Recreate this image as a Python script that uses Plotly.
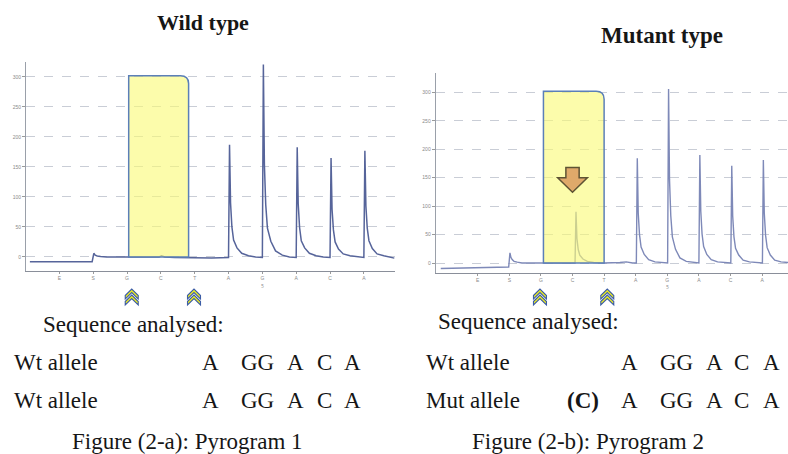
import plotly.graph_objects as go

W, H = 788, 454

# ---------------- data ----------------
dispensation = ["E", "S", "G", "C", "T", "A", "G", "A", "C", "A"]
disp_pos = [1, 2, 3, 4, 5, 6, 7, 8, 9, 10]
y_ticks = [0, 50, 100, 150, 200, 250, 300]

# Wild-type pyrogram trace
wt_x = [0.13, 1.97, 2.02, 2.06, 2.12, 2.22, 2.4, 3.0, 3.6, 3.95, 4.02, 4.12, 4.4, 4.9, 5.5, 6.0,
        6.03, 6.06, 6.10, 6.15, 6.25, 6.39, 6.59, 6.8, 7.0,
        7.03, 7.06, 7.10, 7.15, 7.25, 7.39, 7.59, 7.8, 8.0,
        8.03, 8.06, 8.10, 8.15, 8.25, 8.39, 8.59, 8.8, 9.0,
        9.03, 9.06, 9.10, 9.15, 9.25, 9.39, 9.59, 9.8, 10.0,
        10.03, 10.06, 10.10, 10.15, 10.25, 10.39, 10.59, 10.8, 10.9]
wt_y = [-8, -8, 6, 3, 1.5, 0.5, 0, 0, 0, 0, 2, 0, -1, -2, -2, -1,
        187, 90, 50, 28, 15, 6, 2, 0, -1,
        321, 154, 87, 48, 26, 10, 3, 0, -1,
        183, 88, 49, 27, 15, 6, 2, 0, -1,
        165, 79, 45, 25, 13, 5, 2, 0, -1,
        177, 85, 48, 27, 14, 5, 2, -1, -2]

# Mutant pyrogram trace
mut_x = [-0.17, 1.98, 2.02, 2.05, 2.09, 2.15, 2.25, 2.4, 3.0, 3.6, 4.08,
         4.11, 4.14, 4.18, 4.23, 4.33, 4.47, 4.67, 5.0, 5.5, 5.7, 5.9, 6.02,
         6.05, 6.08, 6.12, 6.17, 6.27, 6.41, 6.61, 7.01,
         7.04, 7.07, 7.11, 7.16, 7.26, 7.40, 7.60, 8.0,
         8.03, 8.06, 8.10, 8.15, 8.25, 8.39, 8.59, 9.01,
         9.04, 9.07, 9.11, 9.16, 9.26, 9.40, 9.60, 10.01,
         10.04, 10.07, 10.11, 10.16, 10.26, 10.40, 10.60, 10.82]
mut_y = [-9.5, -7, 18, 10, 6, 3, 1.5, 0, 0, 0, 0,
         90, 43, 24, 14, 7, 3, 1, 0, 1, 2, 0, 0,
         184, 88, 50, 28, 15, 6, 2, 0,
         306, 147, 83, 46, 24, 9, 3, 0,
         190, 91, 51, 29, 15, 6, 2, 0,
         171, 82, 46, 26, 14, 5, 2, 0,
         181, 87, 49, 27, 14, 5, 2, 1]

# highlighted region (dispensation G..T) and marker positions
wt_box = [3.05, 4.82, 0, 302]
mut_box = [3.08, 5.0, 0, 302]
wt_chevrons = [3.14, 4.98]
mut_chevrons = [2.97, 5.1]
mut_arrow_x = 4.0
mut_arrow_y = [168, 150, 124.5]

panel_titles = ["Wild type", "Mutant type"]
seq_header = "Sequence analysed:"
allele_a = ["Wt allele", "Wt allele"]
allele_b = ["Wt allele", "Mut allele"]
seq_tokens = ["A", "GG", "A", "C", "A"]
mut_insert = "(C)"
captions = ["Figure (2-a): Pyrogram 1", "Figure (2-b): Pyrogram 2"]
sub_label = "5"

# ---------------- figure ----------------
SERIF = "Liberation Serif"
fig = go.Figure()
fig.add_trace(go.Scatter(x=wt_x, y=wt_y, mode="lines", xaxis="x", yaxis="y",
                         line=dict(color="#56649a", width=1.5), hoverinfo="skip", showlegend=False))
fig.add_trace(go.Scatter(x=mut_x, y=mut_y, mode="lines", xaxis="x2", yaxis="y2",
                         line=dict(color="#7e89b8", width=1.4), hoverinfo="skip", showlegend=False))

def px(v):
    return v / W

def py(v):
    return 1 - v / H

axis_common = dict(showgrid=False, zeroline=False, showline=True, linecolor="#8a8f9a", linewidth=1.3,
                   ticks="outside", ticklen=2, tickcolor="#9a9a9a",
                   tickfont=dict(size=5, color="#8a8a8a", family="Liberation Sans"))
yaxis_common = dict(showgrid=True, gridcolor="#c9cdd6", griddash="dash", gridwidth=1,
                    zeroline=False, showline=True, linecolor="#9aa0aa", linewidth=1,
                    ticks="outside", ticklen=3, tickcolor="#9a9a9a",
                    tickvals=y_ticks, ticktext=[str(v) for v in y_ticks],
                    tickfont=dict(size=5, color="#8a8a8a", family="Liberation Sans"))

fig.update_layout(
    width=W, height=H, margin=dict(l=0, r=0, t=0, b=0),
    paper_bgcolor="white", plot_bgcolor="white", showlegend=False,
    xaxis=dict(domain=[px(26), px(395)], range=[0.015, 10.92], anchor="y",
               tickvals=disp_pos, ticktext=dispensation, **axis_common),
    yaxis=dict(domain=[py(270.7), py(62)], range=[-23, 325], anchor="x", **yaxis_common),
    xaxis2=dict(domain=[px(435.7), 1.0], range=[-0.33, 10.82], anchor="y2",
                tickvals=disp_pos, ticktext=dispensation, **axis_common),
    yaxis2=dict(domain=[py(272.7), py(73)], range=[-17, 334], anchor="x2", **yaxis_common),
)

shapes = []

def rounded_box(b, xr, yr, rx, ry):
    x0, x1, y0, y1 = b
    path = (f"M {x0},{y0} L {x0},{y1} L {x1 - rx},{y1} "
            f"Q {x1},{y1} {x1},{y1 - ry} L {x1},{y0} Z")
    return dict(type="path", path=path, xref=xr, yref=yr, layer="above",
                fillcolor="rgba(250,250,120,0.62)", line=dict(color="#5b7fb8", width=1.5))

shapes.append(rounded_box(wt_box, "x", "y", 0.24, 13))
shapes.append(rounded_box(mut_box, "x2", "y2", 0.25, 14))

# down arrow in mutant panel
ax = mut_arrow_x
a0, a1, a2 = mut_arrow_y
arrow_path = (f"M {ax-0.21},{a0} L {ax+0.21},{a0} L {ax+0.21},{a1} L {ax+0.47},{a1} "
              f"L {ax},{a2} L {ax-0.47},{a1} L {ax-0.21},{a1} Z")
shapes.append(dict(type="path", path=arrow_path, xref="x2", yref="y2", layer="above",
                   fillcolor="#dfa96a", line=dict(color="#5e5334", width=1.5)))

# double chevrons under the axes
chev = ("M -6.5,1 L 0,7.5 L 6.5,1 L 6.5,-2.5 L 0,4 L -6.5,-2.5 Z "
        "M -6.5,-5 L 0,1.5 L 6.5,-5 L 6.5,-8.5 L 0,-2 L -6.5,-8.5 Z")
for xs, xr in ((wt_chevrons, "x"), (mut_chevrons, "x2")):
    for xc in xs:
        shapes.append(dict(type="path", path=chev, xref=xr, yref="paper",
                           xsizemode="pixel", ysizemode="pixel", xanchor=xc, yanchor=py(296.5),
                           fillcolor="#f2f01c", line=dict(color="#3b5ca6", width=1.1)))

fig.update_layout(shapes=shapes)

ann = []

def text(t, x_px, y_px, size, anchor="left", bold=False):
    ann.append(dict(text=f"<b>{t}</b>" if bold else t, x=px(x_px), y=py(y_px),
                    xref="paper", yref="paper", xanchor=anchor, yanchor="middle",
                    showarrow=False, font=dict(family=SERIF, size=size, color="#161616")))

# titles
text(panel_titles[0], 203, 23, 22, "center", True)
text(panel_titles[1], 662, 35, 23, "center", True)

# small sub-label under G
ann.append(dict(text=sub_label, x=7, y=py(286), xref="x", yref="paper", showarrow=False,
                font=dict(size=5, color="#8a8a8a"), yanchor="middle"))
ann.append(dict(text=sub_label, x=7, y=py(287), xref="x2", yref="paper", showarrow=False,
                font=dict(size=5, color="#8a8a8a"), yanchor="middle"))

BODY = 23
# left text block
text(seq_header, 41, 324, BODY)
text(allele_a[0], 12, 362, BODY)
text(allele_a[1], 12, 400, BODY)
left_tok_x = [210.5, 257.5, 295, 324.5, 352]
right_tok_x = [629.5, 676.7, 714.3, 741.7, 771.7]
for yy in (362, 400):
    for t, xx in zip(seq_tokens, left_tok_x):
        text(t, xx, yy, BODY, "center")
text(captions[0], 187, 441, BODY, "center")

# right text block
text(seq_header, 436, 321, BODY)
text(allele_b[0], 424, 362, BODY)
text(allele_b[1], 424, 400, BODY)
for yy in (362, 400):
    for t, xx in zip(seq_tokens, right_tok_x):
        text(t, xx, yy, BODY, "center")
text(mut_insert, 583.3, 400, BODY, "center", True)
text(captions[1], 588, 441, BODY, "center")

fig.update_layout(annotations=ann)
fig.write_html("out.html", config={"displayModeBar": False},
               post_script="document.body.style.margin='0';document.body.style.overflow='hidden';")
